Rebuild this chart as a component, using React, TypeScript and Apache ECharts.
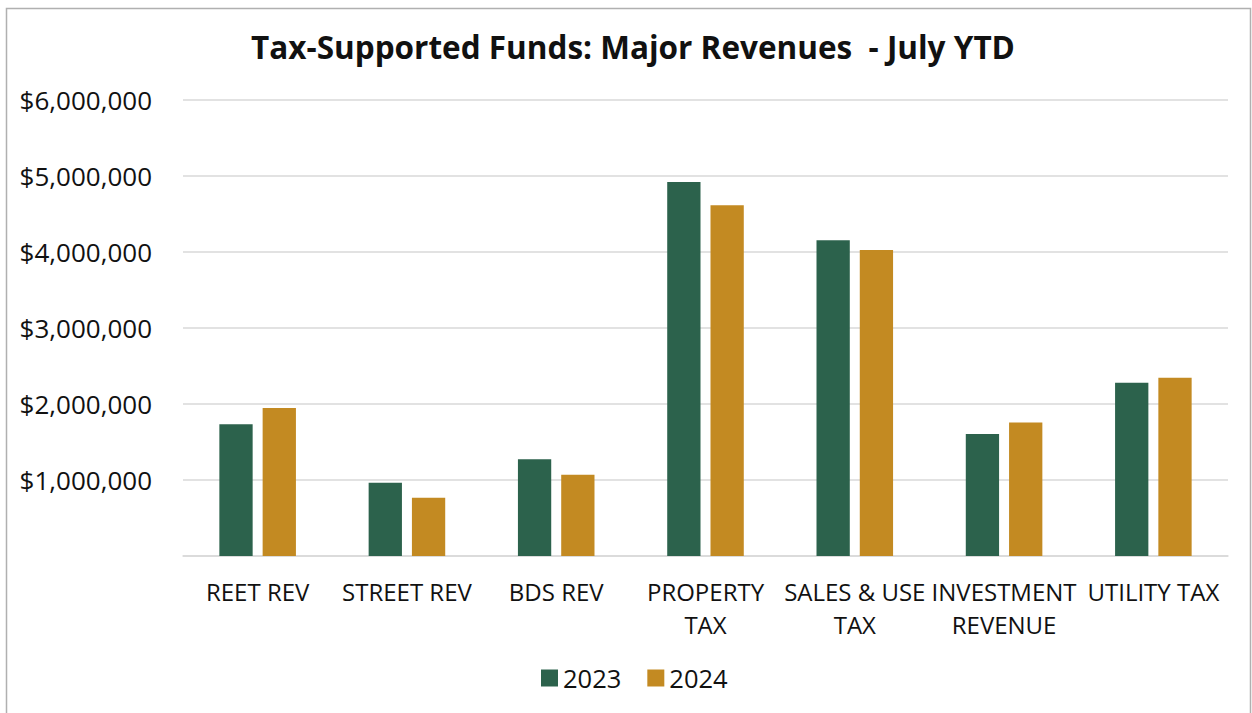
import React, { useEffect, useRef } from "react";
import * as echarts from "echarts";

const categories = [
  "REET REV",
  "STREET REV",
  "BDS REV",
  "PROPERTY\nTAX",
  "SALES & USE\nTAX",
  "INVESTMENT\nREVENUE",
  "UTILITY TAX",
];
const values2023 = [1733000, 965000, 1272000, 4920000, 4156000, 1606000, 2280000];
const values2024 = [1947000, 767000, 1070000, 4615000, 4025000, 1755000, 2345000];
const seriesNames = ["2023", "2024"];
const titleText = "Tax-Supported Funds: Major Revenues  - July YTD";

const GREEN = "#2c624c";
const GOLD = "#c38a22";
const FONT = "'Open Sans', 'Noto Sans', sans-serif";

export default function App() {
  const ref = useRef<HTMLDivElement>(null);
  useEffect(() => {
    if (!ref.current) return;
    const chart = echarts.init(ref.current, null, { renderer: "svg" });
    chart.setOption({
      animation: false,
      backgroundColor: "#ffffff",
      title: {
        text: titleText,
        left: 628,
        textAlign: "center",
        top: 25,
        textStyle: { fontFamily: FONT, fontSize: 31.5, fontWeight: "bold", color: "#111" },
      },
      graphic: [
        {
          type: "rect",
          shape: { x: 6.5, y: 8.5, width: 1244, height: 720 },
          style: { fill: "none", stroke: "#b0b0b0", lineWidth: 1.5 },
          silent: true,
        },
      ],
      legend: {
        data: seriesNames,
        top: 660,
        left: 536,
        itemWidth: 17,
        itemHeight: 17,
        itemGap: 26,
        icon: "rect",
        textStyle: { fontFamily: FONT, fontSize: 25.5, color: "#111", padding: [0, 0, 0, 0] },
      },
      grid: { left: 183, right: 24, top: 100, bottom: 157, containLabel: false },
      xAxis: {
        type: "category",
        data: categories,
        axisLine: { show: true, lineStyle: { color: "#d9d9d9", width: 1.5 } },
        axisTick: { show: false },
        axisLabel: {
          fontFamily: FONT,
          fontSize: 24,
          color: "#111",
          margin: 19,
          lineHeight: 33,
          interval: 0,
        },
      },
      yAxis: {
        type: "value",
        min: 0,
        max: 6000000,
        interval: 1000000,
        axisLine: { show: false },
        axisTick: { show: false },
        splitLine: { lineStyle: { color: "#d9d9d9", width: 1.5 } },
        axisLabel: {
          fontFamily: FONT,
          fontSize: 26,
          color: "#111",
          margin: 31,
          formatter: (v: number) =>
            v === 0 ? "" : "$" + v.toLocaleString("en-US"),
        },
      },
      series: [
        {
          name: seriesNames[0],
          type: "bar",
          data: values2023,
          barWidth: "22.3%",
          barGap: "30%",
          itemStyle: { color: GREEN },
        },
        {
          name: seriesNames[1],
          type: "bar",
          data: values2024,
          barWidth: "22.3%",
          barGap: "30%",
          itemStyle: { color: GOLD },
        },
      ],
    });
    return () => chart.dispose();
  }, []);
  return (
    <div
      ref={ref}
      style={{ position: "absolute", left: 0, top: 0, width: 1252, height: 713 }}
    />
  );
}
